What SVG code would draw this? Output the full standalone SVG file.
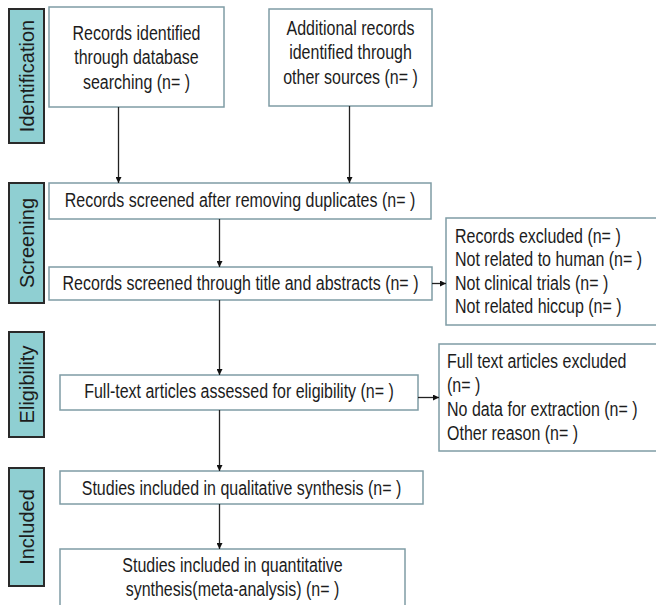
<svg xmlns="http://www.w3.org/2000/svg" width="656" height="605" viewBox="0 0 656 605">
<style>
.bg{fill:#ffffff}
.box{fill:#ffffff;stroke:#7f9ca5;stroke-width:1.5}
.bar{fill:#8fcfd2;stroke:#2a2a2a;stroke-width:2}
.t{font-family:"Liberation Sans",Arial,sans-serif;font-size:19.5px;fill:#1c1c1c}
.bl{font-family:"Liberation Sans",Arial,sans-serif;font-size:20px;fill:#1c1c1c;text-anchor:middle}
.c{fill:none;stroke:#222;stroke-width:1.3}
</style>
<defs>
<marker id="ah" viewBox="0 0 10 10" refX="10" refY="5" markerWidth="6" markerHeight="6" markerUnits="userSpaceOnUse" orient="auto">
<path d="M0,0 L10,5 L0,10 z" fill="#111"/>
</marker>
</defs>
<rect class="bg" x="0" y="0" width="656" height="605"/>

<g id="bar-identification"><rect class="bar" x="9" y="9" width="35" height="134"/><text class="bl" transform="translate(33.5,76) rotate(-90)">Identification</text></g>
<g id="bar-screening"><rect class="bar" x="9" y="183" width="35" height="120"/><text class="bl" transform="translate(33.5,243) rotate(-90)">Screening</text></g>
<g id="bar-eligibility"><rect class="bar" x="9" y="332" width="35" height="105"/><text class="bl" transform="translate(33.5,384.5) rotate(-90)">Eligibility</text></g>
<g id="bar-included"><rect class="bar" x="9" y="468" width="35" height="118"/><text class="bl" transform="translate(33.5,527) rotate(-90)">Included</text></g>

<g id="n-database"><rect class="box" x="49" y="7" width="175" height="100"/>
<text class="t" text-anchor="middle" transform="translate(136.5,0) scale(0.82,1)"><tspan x="0" y="40">Records identified</tspan><tspan x="0" y="64">through database</tspan><tspan x="0" y="89">searching (n= )</tspan></text></g>

<g id="n-other"><rect class="box" x="269" y="9" width="163" height="97"/>
<text class="t" text-anchor="middle" transform="translate(350.5,0) scale(0.82,1)"><tspan x="0" y="35">Additional records</tspan><tspan x="0" y="59">identified through</tspan><tspan x="0" y="84">other sources (n= )</tspan></text></g>

<g id="n-dedup"><rect class="box" x="49" y="183" width="382" height="36"/>
<text class="t" text-anchor="middle" transform="translate(240,207) scale(0.82,1)">Records screened after removing duplicates (n= )</text></g>

<g id="n-title"><rect class="box" x="49" y="267" width="383" height="33"/>
<text class="t" text-anchor="middle" transform="translate(240.5,290) scale(0.82,1)">Records screened through title and abstracts (n= )</text></g>

<g id="n-excluded"><rect class="box" x="446" y="218" width="212" height="107"/>
<text class="t" transform="translate(455,0) scale(0.82,1)"><tspan x="0" y="243">Records excluded (n= )</tspan><tspan x="0" y="266.5">Not related to human (n= )</tspan><tspan x="0" y="290">Not clinical trials (n= )</tspan><tspan x="0" y="313">Not related hiccup (n= )</tspan></text></g>

<g id="n-fulltext"><rect class="box" x="60" y="375" width="358" height="35"/>
<text class="t" text-anchor="middle" transform="translate(239,398) scale(0.82,1)">Full-text articles assessed for eligibility (n= )</text></g>

<g id="n-ftexcluded"><rect class="box" x="439" y="344" width="219" height="107"/>
<text class="t" transform="translate(447,0) scale(0.82,1)"><tspan x="0" y="368">Full text articles excluded</tspan><tspan x="0" y="392">(n= )</tspan><tspan x="0" y="416">No data for extraction (n= )</tspan><tspan x="0" y="440">Other reason (n= )</tspan></text></g>

<g id="n-qualitative"><rect class="box" x="60" y="471" width="363" height="33"/>
<text class="t" text-anchor="middle" transform="translate(241.5,495) scale(0.82,1)">Studies included in qualitative synthesis (n= )</text></g>

<g id="n-quantitative"><rect class="box" x="60" y="549" width="345" height="62"/>
<text class="t" text-anchor="middle" transform="translate(232.5,0) scale(0.82,1)"><tspan x="0" y="572">Studies included in quantitative</tspan><tspan x="0" y="596">synthesis(meta-analysis) (n= )</tspan></text></g>

<g id="connectors">
<line class="c" x1="118.5" y1="107" x2="118.5" y2="183" marker-end="url(#ah)"/>
<line class="c" x1="349.5" y1="106" x2="349.5" y2="183" marker-end="url(#ah)"/>
<line class="c" x1="219.5" y1="219" x2="219.5" y2="267" marker-end="url(#ah)"/>
<line class="c" x1="219.5" y1="300" x2="219.5" y2="375" marker-end="url(#ah)"/>
<line class="c" x1="219.5" y1="410" x2="219.5" y2="471" marker-end="url(#ah)"/>
<line class="c" x1="219.5" y1="504" x2="219.5" y2="549" marker-end="url(#ah)"/>
<line class="c" x1="432" y1="283.5" x2="446" y2="283.5" marker-end="url(#ah)"/>
<line class="c" x1="418" y1="397.5" x2="439" y2="397.5" marker-end="url(#ah)"/>
</g>
</svg>
